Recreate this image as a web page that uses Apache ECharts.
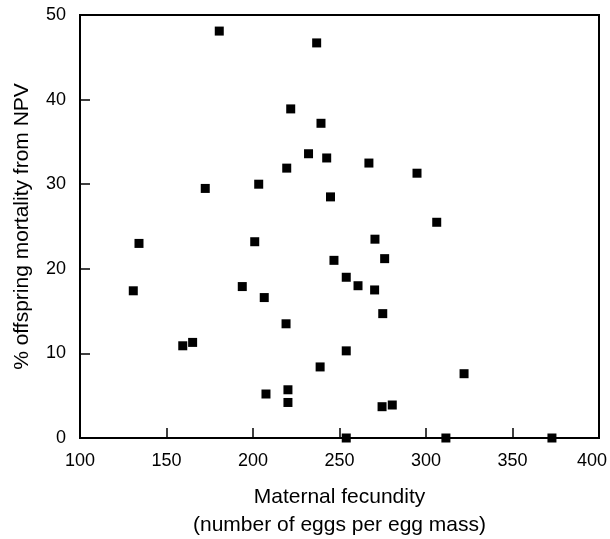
<!DOCTYPE html>
<html>
<head>
<meta charset="utf-8">
<script src="https://cdn.jsdelivr.net/npm/echarts@6/dist/echarts.min.js"></script>
<style>html,body{margin:0;padding:0;background:#fff;}#c{width:610px;height:539px;}</style>
</head>
<body>
<div id="c"></div>
<script>
var fecundity = [180.5, 236.8, 221.8, 239.3, 232.1, 242.6, 219.5, 172.4, 203.3, 244.8,
  267.0, 294.8, 306.2, 270.5, 134.1, 201.0, 130.8, 193.8, 206.5, 219.1,
  159.4, 165.1, 246.8, 276.1, 253.9, 260.7, 270.3, 275.0, 253.9, 238.8,
  322.0, 207.5, 220.2, 220.2, 274.6, 280.5, 253.9, 311.5, 372.8];
var mortality = [48.1, 46.7, 38.9, 37.2, 33.6, 33.1, 31.9, 29.5, 30.0, 28.5,
  32.5, 31.3, 25.5, 23.5, 23.0, 23.2, 17.4, 17.9, 16.6, 13.5,
  10.9, 11.3, 21.0, 21.2, 19.0, 18.0, 17.5, 14.7, 10.3, 8.4,
  7.6, 5.2, 5.7, 4.2, 3.7, 3.9, 0, 0, 0];
var xTicks = [100, 150, 200, 250, 300, 350, 400];
var yTicks = [0, 10, 20, 30, 40, 50];

var pts = fecundity.map(function (x, i) { return [x, mortality[i]]; });
var chart = echarts.init(document.getElementById('c'), null, {renderer: 'canvas'});
var font = 'Liberation Sans, Arial, Helvetica, sans-serif';
var xMax = xTicks[xTicks.length - 1];
chart.setOption({
  animation: false,
  backgroundColor: '#fff',
  grid: {left: 80, right: 11, top: 15, bottom: 101, containLabel: false, outerBoundsMode: 'none',
    show: true, borderColor: '#000', borderWidth: 2, backgroundColor: 'transparent'},
  xAxis: {
    type: 'value', min: xTicks[0], max: xMax, interval: 50,
    axisLine: {lineStyle: {color: '#000', width: 2}},
    axisTick: {inside: true, length: 10, lineStyle: {color: '#000', width: 1.5}},
    axisLabel: {color: '#000', fontSize: 18, fontFamily: font, margin: 14,
      formatter: function (v) { return v === xMax ? '{r|' + v + '}' : String(v); },
      rich: {r: {color: '#000', fontSize: 18, fontFamily: font, padding: [0, 14, 0, 0]}}},
    splitLine: {show: false},
    name: 'Maternal fecundity\n(number of eggs per egg mass)',
    nameLocation: 'middle', nameGap: 45,
    nameTextStyle: {color: '#000', fontSize: 21, fontFamily: font, lineHeight: 28, verticalAlign: 'top'}
  },
  yAxis: {
    type: 'value', min: yTicks[0], max: yTicks[yTicks.length - 1], interval: 10,
    axisLine: {lineStyle: {color: '#000', width: 2}},
    axisTick: {inside: true, length: 10, lineStyle: {color: '#000', width: 1.5}},
    axisLabel: {color: '#000', fontSize: 18, fontFamily: font, margin: 14},
    splitLine: {show: false},
    name: '% offspring mortality from NPV',
    nameLocation: 'middle', nameGap: 47, nameRotate: 90,
    nameTextStyle: {color: '#000', fontSize: 21, fontFamily: font}
  },
  series: [{
    type: 'scatter', data: pts, symbol: 'rect', symbolSize: 9, clip: false,
    itemStyle: {color: '#000', opacity: 1}
  }]
});
</script>
</body>
</html>
